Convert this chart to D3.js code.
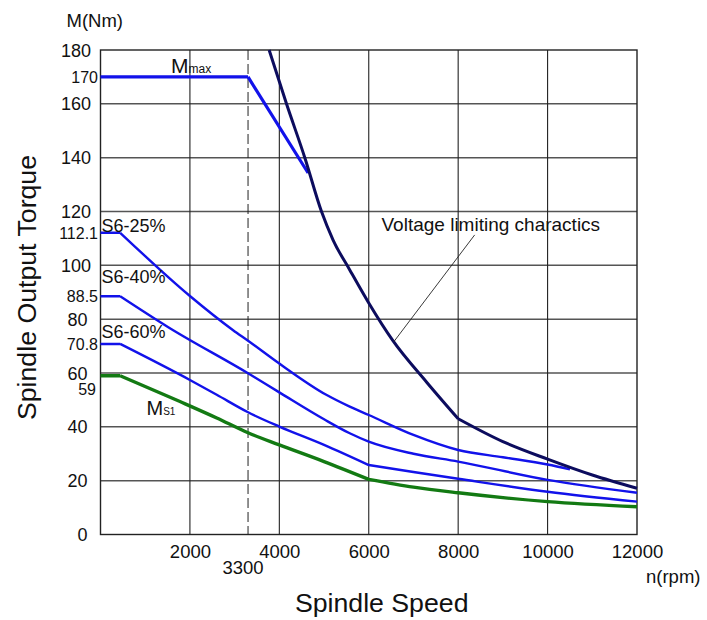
<!DOCTYPE html>
<html>
<head>
<meta charset="utf-8">
<script src="https://cdn.jsdelivr.net/npm/d3@7"></script>
<style>
  body { margin: 0; background: #fff; }
  text { font-family: "Liberation Sans", Arial, sans-serif; fill: #111; }
</style>
</head>
<body>
<div id="chart"></div>
<script>
// tick values
const speedTicks = [2000, 4000, 6000, 8000, 10000, 12000];
const torqueTicks = [0, 20, 40, 60, 80, 100, 120, 140, 160, 180];
const torqueMarks = [170, 112.1, 88.5, 70.8, 59];
const baseSpeed = 3300;

// curves, [speed rpm, torque Nm]
const mMax = [[0, 170], [3300, 170], [4644, 134.3]];
const voltageLimit = [[3772, 180], [4160, 160], [4570, 140], [4943, 120], [5200, 109.5],
  [5575, 98.3], [6000, 86], [6540, 72], [7300, 56.5], [8000, 43], [9000, 34.5],
  [10000, 28], [11000, 22.1], [12000, 17.2]];
const s6_25 = [[0, 112.1], [440, 112.1], [2000, 88.6], [2966, 75.9], [3300, 72], [4000, 63.5],
  [5050, 51.9], [5575, 47.5], [6000, 44.4], [7000, 37], [8000, 31.4], [9000, 28.7],
  [10000, 26], [10500, 24.2]];
const s6_40 = [[0, 88.5], [440, 88.5], [1516, 77], [3300, 59.9], [4000, 52.8], [5000, 42.8],
  [5575, 37.6], [6000, 34.5], [7000, 30], [8000, 27.1], [10000, 20.3], [12000, 15.5]];
const s6_60 = [[0, 70.8], [440, 70.8], [2000, 57.4], [2600, 51.9], [3300, 45.4], [4000, 40.1],
  [5000, 33.3], [6000, 25.8], [7000, 23.2], [8000, 20.7], [10000, 15.9], [12000, 12.2]];
const mS1 = [[0, 59], [440, 59], [1777, 49.4], [2600, 43.3], [3300, 37.8], [4000, 33.3],
  [5000, 27.1], [6000, 20.5], [7000, 17.6], [8000, 15.5], [10000, 12.2], [12000, 10.3]];

const margin = {top: 50, right: 70, bottom: 85.5, left: 100.5},
      width = 707 - margin.left - margin.right,
      height = 620 - margin.top - margin.bottom;

const svg = d3.select("#chart")
  .append("svg")
  .attr("width", 707)
  .attr("height", 620);

const g = svg.append("g")
  .attr("transform", `translate(${margin.left}, ${margin.top})`);

const x = d3.scaleLinear().domain([0, 12000]).range([0, width]);
const y = d3.scaleLinear().domain([0, 180]).range([height, 0]);

// grid
g.append("g").selectAll("line")
  .data(torqueTicks.slice(1, -1))
  .join("line")
    .attr("x1", 0).attr("x2", width)
    .attr("y1", d => y(d)).attr("y2", d => y(d))
    .style("stroke", "#555").style("stroke-width", 1.5);
g.append("g").selectAll("line")
  .data(speedTicks.slice(0, -1))
  .join("line")
    .attr("x1", d => x(d)).attr("x2", d => x(d))
    .attr("y1", 0).attr("y2", height)
    .style("stroke", "#222").style("stroke-width", 1.1);

// frame
g.append("rect")
  .attr("width", width).attr("height", height)
  .style("fill", "none").style("stroke", "#222").style("stroke-width", 1.4);

// dashed line at base speed
g.append("line")
  .attr("x1", x(baseSpeed)).attr("x2", x(baseSpeed))
  .attr("y1", 0).attr("y2", height)
  .style("stroke", "#222").style("stroke-width", 1)
  .style("stroke-dasharray", "10,4");

// x axis
const xAxis = g.append("g")
  .attr("transform", `translate(0, ${height})`)
  .call(d3.axisBottom(x).tickValues(speedTicks).tickFormat(d3.format("d")).tickSize(0).tickPadding(10.5));
xAxis.select(".domain").remove();
xAxis.selectAll("text").style("font-size", "18.5px").style("font-family", null).attr("fill", "#111");

// y axis
const yAxis = g.append("g")
  .call(d3.axisLeft(y).tickValues(torqueTicks).tickSize(0));
yAxis.select(".domain").remove();
yAxis.selectAll("text")
  .style("font-size", "18px").style("font-family", null).attr("fill", "#111")
  .attr("x", d => String(d).length >= 3 ? -9.5 : -13)
  .attr("dy", "0.34em");

// extra torque labels
g.append("g").selectAll("text")
  .data(torqueMarks)
  .join("text")
    .attr("x", d => d === 59 ? -4.5 : -2.5)
    .attr("y", d => y(d) + (d === 59 ? 13.5 : 0))
    .attr("dy", "0.36em")
    .attr("text-anchor", "end")
    .style("font-size", "16px")
    .text(d => d);

g.append("text")
  .attr("x", x(baseSpeed) - 5)
  .attr("y", height + 39.5)
  .attr("text-anchor", "middle")
  .style("font-size", "18.5px")
  .text(baseSpeed);

// curves: smooth between corner speeds, sharp at the corners
const line = d3.line().x(d => x(d[0])).y(d => y(d[1])).curve(d3.curveMonotoneX);
function pieces(data, corners) {
  const out = [];
  let cur = [];
  data.forEach(function (p) {
    cur.push(p);
    if (corners.includes(p[0])) { out.push(cur); cur = [p]; }
  });
  if (cur.length > 1) out.push(cur);
  return out;
}
const curves = [
  {data: s6_25, corners: [440], color: "#1212ea", w: 2.4},
  {data: s6_40, corners: [440], color: "#1212ea", w: 2.4},
  {data: s6_60, corners: [440, 6000], color: "#1212ea", w: 2.4},
  {data: mS1, corners: [440, 6000], color: "#137a13", w: 3.4},
  {data: mMax, corners: [3300], color: "#1212ea", w: 3.2},
  {data: voltageLimit, corners: [8000], color: "#0c0c5e", w: 3}
];
curves.forEach(function (c) {
  g.append("path")
    .attr("d", pieces(c.data, c.corners).map(p => line(p)).join(""))
    .style("fill", "none")
    .style("stroke", c.color)
    .style("stroke-width", c.w)
    .style("stroke-linejoin", "round");
});

// curve labels
[["S6-25%", 232.3], ["S6-40%", 283.3], ["S6-60%", 338.3]].forEach(function (l) {
  svg.append("text")
    .attr("x", 101.5).attr("y", l[1])
    .style("font-size", "18px")
    .text(l[0]);
});

const mm = svg.append("text").attr("x", 171).attr("y", 72.7);
mm.append("tspan").style("font-size", "21px").text("M");
mm.append("tspan").style("font-size", "12px").text("max");

const ms = svg.append("text").attr("x", 146.5).attr("y", 415);
ms.append("tspan").style("font-size", "20px").text("M");
ms.append("tspan").style("font-size", "10px").text("S1");

// voltage limit annotation
svg.append("text")
  .attr("x", 381.5).attr("y", 230.7)
  .style("font-size", "19px")
  .text("Voltage limiting charactics");
g.append("line")
  .attr("x1", x(8369)).attr("y1", y(111.3))
  .attr("x2", x(6560)).attr("y2", y(71.6))
  .style("stroke", "#222").style("stroke-width", 0.9);

// axis titles
svg.append("text")
  .attr("x", 66.5).attr("y", 26.7)
  .style("font-size", "18.5px")
  .text("M(Nm)");
svg.append("text")
  .attr("x", 646).attr("y", 583)
  .style("font-size", "18.5px")
  .text("n(rpm)");
svg.append("text")
  .attr("x", 381.7).attr("y", 612)
  .attr("text-anchor", "middle")
  .style("font-size", "26.7px")
  .text("Spindle Speed");
svg.append("text")
  .attr("transform", "translate(36, 287.5) rotate(-90)")
  .attr("text-anchor", "middle")
  .style("font-size", "26.7px")
  .text("Spindle Output Torque");
</script>
</body>
</html>
